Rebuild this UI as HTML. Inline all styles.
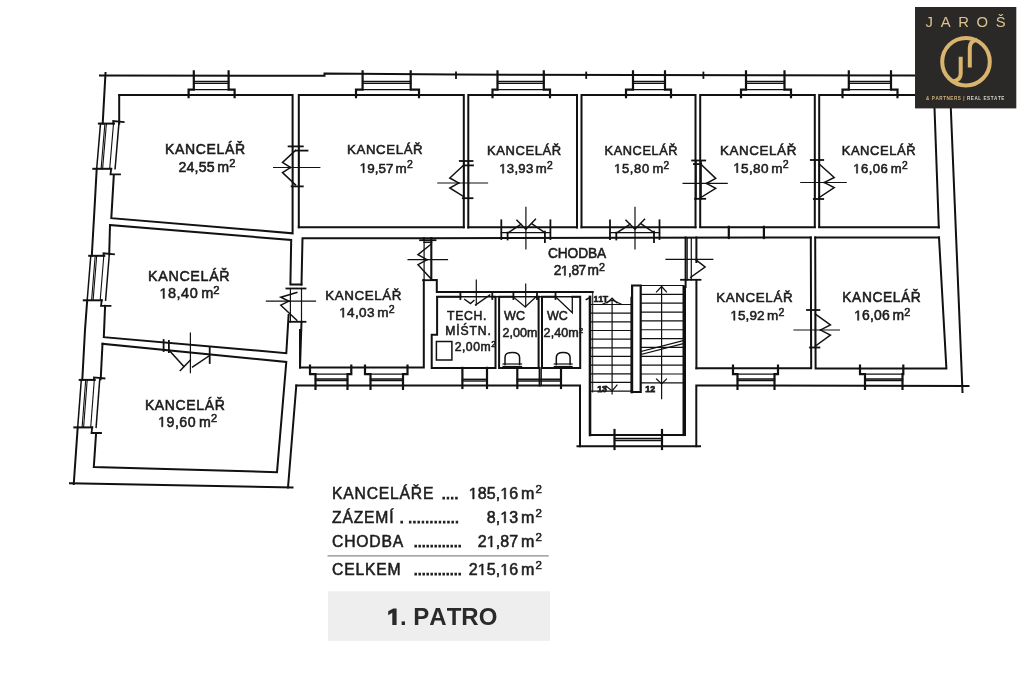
<!DOCTYPE html>
<html><head><meta charset="utf-8"><style>
html,body{margin:0;padding:0;background:#fff;}
body{width:1024px;height:683px;overflow:hidden;position:relative;font-family:"Liberation Sans",sans-serif;}
svg{position:absolute;left:0;top:0;will-change:transform;}
text{stroke:#1c1c1c;stroke-width:0.55px;font-kerning:none;fill:#1c1c1c;}
.k{font-size:14.2px;letter-spacing:0.4px;text-anchor:middle;fill:#1c1c1c;}
.a{font-size:14px;letter-spacing:0.1px;text-anchor:middle;fill:#1c1c1c;}
.s{font-size:12.5px;letter-spacing:0.1px;text-anchor:middle;fill:#1c1c1c;}
.t{font-size:7px;fill:#1c1c1c;}
.n{font-size:9.5px;font-weight:bold;fill:#1c1c1c;stroke-width:0;}
.tb text{font-size:15.7px;letter-spacing:0.8px;fill:#1e1e1e;stroke:#1e1e1e;}
.tb text.d{letter-spacing:0.1px;stroke-width:1.0px;}
.tb text.v{letter-spacing:0.1px;font-size:16px;}
.tb text.q{font-size:11.5px;letter-spacing:0;}
.h1{fill:none;stroke:none;}
path.one{fill:#1c1c1c;stroke:#1c1c1c;stroke-width:0.55px;stroke-linejoin:miter;}
</style></head><body>
<svg width="1024" height="683" viewBox="0 0 1024 683">
<g stroke="#111" stroke-width="2" fill="none" stroke-linecap="square" stroke-linejoin="miter">
<polyline points="100,75.5 324.5,75.8 324.5,73.4 455,74.6 916,75.5"/>
<polyline points="105.5,73 102.7,123.6"/>
<polyline points="96.7,168.8 95,200 91.8,255.8"/>
<polyline points="87.2,300.3 85,330 82.3,379.9"/>
<polyline points="77.7,427.4 73.75,484"/>
<line x1="70" y1="483.2" x2="292.5" y2="487.5"/>
<line x1="288" y1="487.5" x2="296.3" y2="385.5"/>
<polyline points="296.3,385.5 580,385.5 580,446.3"/>
<line x1="577.5" y1="446.3" x2="700" y2="446.3"/>
<polyline points="696.3,446.3 696.3,385.5 968.5,386"/>
<line x1="950.8" y1="108" x2="962.5" y2="392"/>
<line x1="456" y1="72.5" x2="456" y2="78" stroke-width="1.8"/>
<line x1="586.2" y1="72.5" x2="586.2" y2="78" stroke-width="1.8"/>
<line x1="703.4" y1="72.5" x2="703.4" y2="78" stroke-width="1.8"/>
<line x1="728.8" y1="226.8" x2="728.8" y2="238" stroke-width="2.2"/>
<line x1="763.9" y1="226.8" x2="763.9" y2="238" stroke-width="2.2"/>
<polyline points="119.2,95 292.6,95 292.6,233.3 111.3,218.2 113.8,175.4"/>
<line x1="119.2" y1="95" x2="119.2" y2="123.6"/>
<polyline points="298.8,227.3 298.8,95 463.8,95 463.8,227.2"/>
<polyline points="468.3,227.4 468.3,95 577,95 577,227.4"/>
<polyline points="581.5,227.2 581.5,95 695.5,95 695.5,227.2"/>
<polyline points="700.2,227 700.2,95 814.8,95 814.8,227"/>
<polyline points="819.2,227 819.2,95 916,95"/>
<line x1="934.5" y1="108" x2="938.8" y2="227.5"/>
<line x1="298.8" y1="227.3" x2="463.8" y2="227.3"/>
<line x1="468.3" y1="227.3" x2="577" y2="227.3"/>
<line x1="581.5" y1="227.3" x2="695.5" y2="227.3"/>
<line x1="700.2" y1="227.3" x2="814.8" y2="227.3"/>
<line x1="819.2" y1="227.3" x2="938.8" y2="227.3"/>
<polyline points="110,225 291.2,240 290.4,284.5 301.5,284.5"/>
<polyline points="288.6,315 286.3,353.2 103.8,337.2 105.1,305.9"/>
<line x1="109.2" y1="254.4" x2="110" y2="225"/>
<polyline points="102.5,343.8 286.3,362 277,472.2 93.8,467 96.1,433"/>
<line x1="100.7" y1="379.2" x2="102.5" y2="343.8"/>
<polyline points="301.5,284.5 302.5,238.3 423.8,238.3 423.8,239"/>
<polyline points="423.8,280 423.8,367.6 300,367.6 301.5,321.8"/>
<polyline points="300,330 300,367.5"/>
<line x1="423.8" y1="238.2" x2="810.8" y2="237.5"/>
<line x1="815.2" y1="237.5" x2="939" y2="237.5"/>
<polyline points="431.3,238 431.3,280 436.8,280 436.8,292.1 592.7,292.1"/>
<line x1="592.7" y1="292.1" x2="592.7" y2="392" stroke-width="1.0"/>
<line x1="685.6" y1="237.5" x2="685.6" y2="287"/>
<line x1="696.4" y1="280" x2="696.4" y2="368.3"/>
<line x1="696.4" y1="237.5" x2="696.4" y2="262"/>
<polyline points="460.4,296.8 437.1,296.8 437.1,334.7 431.7,334.7 431.7,367.9 495.5,367.9 495.5,296.8 492.3,296.8"/>
<line x1="437.1" y1="296.8" x2="580.2" y2="296.8" stroke-width="1.4"/>
<polyline points="513.4,296.8 499.1,296.8 499.1,367.9 538.6,367.9 538.6,296.8 537,296.8"/>
<polyline points="555.5,296.8 542,296.8 542,367.9 580.2,367.9 580.2,296.8 572.3,296.8"/>
<line x1="539.6" y1="367.9" x2="539.6" y2="385.5"/>
<line x1="541.3" y1="367.9" x2="541.3" y2="385.5" stroke-width="1.2"/>
<polyline points="696.4,368.3 811.2,368.3 810.8,237.5"/>
<polyline points="939,237.5 946.4,368.4 815.6,368.4 815.2,237.5"/>
<polyline points="590,296.9 590,435 685,435 685,287"/>
<line x1="683.6" y1="286.5" x2="683.6" y2="435" stroke-width="1.2"/>
<polyline points="193.8,71.4 193.8,89.6 188.6,89.6 188.6,97.2" stroke-width="2.2"/>
<polyline points="228.6,71.4 228.6,89.6 234.6,89.6 234.6,97.2" stroke-width="2.2"/>
<line x1="193.8" y1="81.5" x2="228.6" y2="81.5" stroke-width="1.3"/>
<line x1="193.8" y1="83.4" x2="228.6" y2="83.4" stroke-width="1.3"/>
<line x1="193.8" y1="89.6" x2="228.6" y2="89.6" stroke-width="1.2"/>
<polyline points="362.6,71.4 362.6,89.6 356,89.6 356,97.2" stroke-width="2.2"/>
<polyline points="410.7,71.4 410.7,89.6 419,89.6 419,97.2" stroke-width="2.2"/>
<line x1="362.6" y1="81.5" x2="410.7" y2="81.5" stroke-width="1.3"/>
<line x1="362.6" y1="83.4" x2="410.7" y2="83.4" stroke-width="1.3"/>
<line x1="362.6" y1="89.6" x2="410.7" y2="89.6" stroke-width="1.2"/>
<polyline points="497.5,71.4 497.5,89.6 492.5,89.6 492.5,97.2" stroke-width="2.2"/>
<polyline points="543.8,71.4 543.8,89.6 550,89.6 550,97.2" stroke-width="2.2"/>
<line x1="497.5" y1="81.5" x2="543.8" y2="81.5" stroke-width="1.3"/>
<line x1="497.5" y1="83.4" x2="543.8" y2="83.4" stroke-width="1.3"/>
<line x1="497.5" y1="89.6" x2="543.8" y2="89.6" stroke-width="1.2"/>
<polyline points="633,71.4 633,89.6 626,89.6 626,97.2" stroke-width="2.2"/>
<polyline points="665,71.4 665,89.6 671,89.6 671,97.2" stroke-width="2.2"/>
<line x1="633" y1="81.5" x2="665" y2="81.5" stroke-width="1.3"/>
<line x1="633" y1="83.4" x2="665" y2="83.4" stroke-width="1.3"/>
<line x1="633" y1="89.6" x2="665" y2="89.6" stroke-width="1.2"/>
<polyline points="746,71.4 746,89.6 741,89.6 741,97.2" stroke-width="2.2"/>
<polyline points="784.5,71.4 784.5,89.6 791,89.6 791,97.2" stroke-width="2.2"/>
<line x1="746" y1="81.5" x2="784.5" y2="81.5" stroke-width="1.3"/>
<line x1="746" y1="83.4" x2="784.5" y2="83.4" stroke-width="1.3"/>
<line x1="746" y1="89.6" x2="784.5" y2="89.6" stroke-width="1.2"/>
<polyline points="848.8,71.4 848.8,89.6 842.5,89.6 842.5,97.2" stroke-width="2.2"/>
<polyline points="891,71.4 891,89.6 897.5,89.6 897.5,97.2" stroke-width="2.2"/>
<line x1="848.8" y1="81.5" x2="891" y2="81.5" stroke-width="1.3"/>
<line x1="848.8" y1="83.4" x2="891" y2="83.4" stroke-width="1.3"/>
<line x1="848.8" y1="89.6" x2="891" y2="89.6" stroke-width="1.2"/>
<polyline points="310,365.6 310,374.1 315.5,374.1 315.5,389" stroke-width="2.2"/>
<polyline points="351.3,365.6 351.3,374.1 347.5,374.1 347.5,389" stroke-width="2.2"/>
<line x1="315.5" y1="374.1" x2="347.5" y2="374.1" stroke-width="1.2"/>
<line x1="315.5" y1="379" x2="347.5" y2="379" stroke-width="1.3"/>
<line x1="315.5" y1="380.5" x2="347.5" y2="380.5" stroke-width="1.3"/>
<polyline points="365,365.6 365,374.1 370.5,374.1 370.5,389" stroke-width="2.2"/>
<polyline points="407.5,365.6 407.5,374.1 403,374.1 403,389" stroke-width="2.2"/>
<line x1="370.5" y1="374.1" x2="403" y2="374.1" stroke-width="1.2"/>
<line x1="370.5" y1="379" x2="403" y2="379" stroke-width="1.3"/>
<line x1="370.5" y1="380.5" x2="403" y2="380.5" stroke-width="1.3"/>
<polyline points="733,365.6 733,374.1 737.5,374.1 737.5,389" stroke-width="2.2"/>
<polyline points="778,365.6 778,374.1 774.5,374.1 774.5,389" stroke-width="2.2"/>
<line x1="737.5" y1="374.1" x2="774.5" y2="374.1" stroke-width="1.2"/>
<line x1="737.5" y1="379" x2="774.5" y2="379" stroke-width="1.3"/>
<line x1="737.5" y1="380.5" x2="774.5" y2="380.5" stroke-width="1.3"/>
<polyline points="860,365.6 860,374.1 865,374.1 865,389" stroke-width="2.2"/>
<polyline points="903.3,365.6 903.3,374.1 902.5,374.1 902.5,389" stroke-width="2.2"/>
<line x1="865" y1="374.1" x2="902.5" y2="374.1" stroke-width="1.2"/>
<line x1="865" y1="379" x2="902.5" y2="379" stroke-width="1.3"/>
<line x1="865" y1="380.5" x2="902.5" y2="380.5" stroke-width="1.3"/>
<line x1="462.4" y1="367.9" x2="462.4" y2="388" stroke-width="2.2"/>
<line x1="487" y1="367.9" x2="487" y2="388" stroke-width="2.2"/>
<line x1="462.4" y1="379.3" x2="487" y2="379.3" stroke-width="1.4"/>
<line x1="462.4" y1="381" x2="487" y2="381" stroke-width="1.4"/>
<line x1="517.3" y1="367.9" x2="517.3" y2="388" stroke-width="2.2"/>
<line x1="561" y1="367.9" x2="561" y2="388" stroke-width="2.2"/>
<line x1="517.3" y1="379.3" x2="561" y2="379.3" stroke-width="1.4"/>
<line x1="517.3" y1="381" x2="561" y2="381" stroke-width="1.4"/>
<line x1="614.5" y1="430" x2="614.5" y2="449" stroke-width="2.2"/>
<line x1="662" y1="430" x2="662" y2="449" stroke-width="2.2"/>
<line x1="614.5" y1="438.5" x2="662" y2="438.5" stroke-width="1.3"/>
<line x1="614.5" y1="440.5" x2="662" y2="440.5" stroke-width="1.3"/>
<line x1="100.5" y1="123.6" x2="96.7" y2="168.8" stroke-width="1.5"/>
<line x1="104.9" y1="123.6" x2="101.1" y2="168.8" stroke-width="1.1"/>
<line x1="106.4" y1="123.6" x2="102.6" y2="168.8" stroke-width="1.1"/>
<line x1="113.5" y1="123.6" x2="109.7" y2="168.8" stroke-width="1.1"/>
<line x1="118.9" y1="123.6" x2="115.1" y2="168.8" stroke-width="1.5"/>
<line x1="98.9" y1="123.6" x2="114" y2="123.6"/>
<polyline points="113.2,123.6 113.2,121.1 123.7,122.1" stroke-width="1.8"/>
<line x1="93.3" y1="168.8" x2="111.2" y2="168.8"/>
<polyline points="111.2,168.8 110.5,174.4 120,174.4" stroke-width="1.8"/>
<line x1="90.8" y1="255.8" x2="87.2" y2="300.3" stroke-width="1.5"/>
<line x1="95.2" y1="255.8" x2="91.6" y2="300.3" stroke-width="1.1"/>
<line x1="96.7" y1="255.8" x2="93.1" y2="300.3" stroke-width="1.1"/>
<line x1="103.8" y1="255.8" x2="100.2" y2="300.3" stroke-width="1.1"/>
<line x1="109.2" y1="255.8" x2="105.6" y2="300.3" stroke-width="1.5"/>
<line x1="89.2" y1="255.8" x2="104.3" y2="255.8"/>
<polyline points="103.5,255.8 103.5,253.3 114,254.3" stroke-width="1.8"/>
<line x1="83.8" y1="300.3" x2="101.7" y2="300.3"/>
<polyline points="101.7,300.3 101,305.9 110.5,305.9" stroke-width="1.8"/>
<line x1="81.3" y1="379.9" x2="77.7" y2="427.4" stroke-width="1.5"/>
<line x1="85.7" y1="379.9" x2="82.1" y2="427.4" stroke-width="1.1"/>
<line x1="87.2" y1="379.9" x2="83.6" y2="427.4" stroke-width="1.1"/>
<line x1="94.3" y1="379.9" x2="90.7" y2="427.4" stroke-width="1.1"/>
<line x1="99.7" y1="379.9" x2="96.1" y2="427.4" stroke-width="1.5"/>
<line x1="79.7" y1="379.9" x2="94.8" y2="379.9"/>
<polyline points="94,379.9 94,377.4 104.5,378.4" stroke-width="1.8"/>
<line x1="74.3" y1="427.4" x2="92.2" y2="427.4"/>
<polyline points="92.2,427.4 91.5,433 101,433" stroke-width="1.8"/>
<line x1="288.6" y1="146.4" x2="302.8" y2="146.4" stroke-width="1.8"/>
<line x1="291.6" y1="186.4" x2="302.8" y2="186.4" stroke-width="1.8"/>
<line x1="292.6" y1="146.4" x2="292.6" y2="186.4" stroke-width="1.2"/>
<line x1="298.8" y1="146.4" x2="298.8" y2="186.4" stroke-width="1.2"/>
<line x1="273.6" y1="167.5" x2="319.8" y2="167.5" stroke-width="1.2"/>
<polyline points="295.5,150.4 282.5,162.5 290.5,167.5" stroke-width="1.5"/>
<polyline points="295.5,184.9 282.5,172.5 290.5,167.5" stroke-width="1.5"/>
<line x1="296" y1="150.6" x2="307.5" y2="150.6" stroke-width="1.8"/>
<line x1="459.8" y1="161" x2="472.5" y2="161" stroke-width="1.8"/>
<line x1="462.8" y1="198.2" x2="472.5" y2="198.2" stroke-width="1.8"/>
<line x1="463.8" y1="161" x2="463.8" y2="198.2" stroke-width="1.2"/>
<line x1="468.5" y1="161" x2="468.5" y2="198.2" stroke-width="1.2"/>
<line x1="437.8" y1="183" x2="487.5" y2="183" stroke-width="1.2"/>
<polyline points="463.8,165 449.8,178 458.8,183" stroke-width="1.5"/>
<polyline points="463.8,196.7 449.8,188 458.8,183" stroke-width="1.5"/>
<line x1="463.8" y1="165.4" x2="473" y2="165.4" stroke-width="1.8"/>
<line x1="692.1" y1="160.5" x2="705.2" y2="160.5" stroke-width="1.8"/>
<line x1="695.1" y1="198.8" x2="705.2" y2="198.8" stroke-width="1.8"/>
<line x1="701.2" y1="160.5" x2="701.2" y2="198.8" stroke-width="1.2"/>
<line x1="696.1" y1="160.5" x2="696.1" y2="198.8" stroke-width="1.2"/>
<line x1="683.1" y1="183.4" x2="727.2" y2="183.4" stroke-width="1.2"/>
<polyline points="701.2,164.5 715.7,178.4 706.6,183.4" stroke-width="1.5"/>
<polyline points="701.2,197.3 715.7,188.4 706.6,183.4" stroke-width="1.5"/>
<line x1="693.9" y1="164.1" x2="701.2" y2="164.1" stroke-width="1.8"/>
<line x1="810.8" y1="160" x2="823.2" y2="160" stroke-width="1.8"/>
<line x1="813.8" y1="199" x2="823.2" y2="199" stroke-width="1.8"/>
<line x1="819.2" y1="160" x2="819.2" y2="199" stroke-width="1.2"/>
<line x1="814.8" y1="160" x2="814.8" y2="199" stroke-width="1.2"/>
<line x1="800.8" y1="182.5" x2="846.2" y2="182.5" stroke-width="1.2"/>
<polyline points="819.2,164 834.2,177.5 824.2,182.5" stroke-width="1.5"/>
<polyline points="819.2,197.5 834.2,187.5 824.2,182.5" stroke-width="1.5"/>
<line x1="807" y1="310" x2="819.4" y2="310" stroke-width="1.8"/>
<line x1="810" y1="347.5" x2="819.4" y2="347.5" stroke-width="1.8"/>
<line x1="815.4" y1="310" x2="815.4" y2="347.5" stroke-width="1.2"/>
<line x1="811" y1="310" x2="811" y2="347.5" stroke-width="1.2"/>
<line x1="794" y1="330" x2="839.4" y2="330" stroke-width="1.2"/>
<polyline points="815.4,314 830.4,325 820.4,330" stroke-width="1.5"/>
<polyline points="815.4,346 830.4,335 820.4,330" stroke-width="1.5"/>
<line x1="420.1" y1="240.2" x2="435.5" y2="240.2" stroke-width="1.8"/>
<line x1="423.1" y1="280.2" x2="435.5" y2="280.2" stroke-width="1.8"/>
<line x1="431.5" y1="240.2" x2="431.5" y2="280.2" stroke-width="1.2"/>
<line x1="424.1" y1="240.2" x2="424.1" y2="280.2" stroke-width="1.2"/>
<line x1="408.1" y1="259.7" x2="447.5" y2="259.7" stroke-width="1.2"/>
<polyline points="431,244.2 418,254.7 427,259.7" stroke-width="1.5"/>
<polyline points="431,278.7 418,264.7 427,259.7" stroke-width="1.5"/>
<line x1="424.1" y1="242.3" x2="431.5" y2="242.3" stroke-width="1.5"/>
<line x1="286.4" y1="288.5" x2="305.5" y2="288.5" stroke-width="1.8"/>
<line x1="289.4" y1="321.8" x2="305.5" y2="321.8" stroke-width="1.8"/>
<line x1="290.4" y1="288.5" x2="290.4" y2="321.8" stroke-width="1.2"/>
<line x1="301.5" y1="288.5" x2="301.5" y2="321.8" stroke-width="1.2"/>
<line x1="266.4" y1="301.2" x2="315.5" y2="301.2" stroke-width="1.2"/>
<polyline points="296.8,292.5 280.8,297.2 288.8,301.2" stroke-width="1.5"/>
<polyline points="296.8,320.3 280.8,305.2 288.8,301.2" stroke-width="1.5"/>
<line x1="687.2" y1="237.5" x2="687.2" y2="280" stroke-width="1.2"/>
<line x1="691.3" y1="237.5" x2="691.3" y2="280" stroke-width="1.2"/>
<line x1="681" y1="279.8" x2="700.5" y2="279.8" stroke-width="1.8"/>
<line x1="666" y1="259.3" x2="712.8" y2="259.3" stroke-width="1.2"/>
<polyline points="690.7,277.3 705.1,267 695.9,259.8" stroke-width="1.5"/>
<line x1="501.3" y1="220.3" x2="501.3" y2="239" stroke-width="1.8"/>
<line x1="550.4" y1="220.3" x2="550.4" y2="239" stroke-width="1.8"/>
<line x1="501.3" y1="232.65" x2="550.4" y2="232.65" stroke-width="1.2"/>
<line x1="507.6" y1="232.65" x2="507.6" y2="239.5" stroke-width="1.8"/>
<line x1="544.9" y1="231.65" x2="544.9" y2="242" stroke-width="1.8"/>
<line x1="525.9" y1="207.3" x2="525.9" y2="249" stroke-width="1.2"/>
<polyline points="516.9,220.3 525.9,229.3 535.4,219.3" stroke-width="1.5"/>
<line x1="507.6" y1="233.15" x2="520.9" y2="224.3" stroke-width="1.5"/>
<line x1="544.9" y1="232.65" x2="531.9" y2="223.8" stroke-width="1.5"/>
<line x1="610" y1="220.3" x2="610" y2="239" stroke-width="1.8"/>
<line x1="659.5" y1="220.3" x2="659.5" y2="239" stroke-width="1.8"/>
<line x1="610" y1="232.65" x2="659.5" y2="232.65" stroke-width="1.2"/>
<line x1="616.3" y1="232.65" x2="616.3" y2="239.5" stroke-width="1.8"/>
<line x1="654" y1="231.65" x2="654" y2="242" stroke-width="1.8"/>
<line x1="635" y1="207.3" x2="635" y2="249" stroke-width="1.2"/>
<polyline points="626,220.3 635,229.3 644.5,219.3" stroke-width="1.5"/>
<line x1="616.3" y1="233.15" x2="630" y2="224.3" stroke-width="1.5"/>
<line x1="654" y1="232.65" x2="641" y2="223.8" stroke-width="1.5"/>
<line x1="163.6" y1="340" x2="163.6" y2="351" stroke-width="1.8"/>
<line x1="168.9" y1="341" x2="168.9" y2="352" stroke-width="1.8"/>
<line x1="209.7" y1="347" x2="209.7" y2="363" stroke-width="1.8"/>
<line x1="190.4" y1="333.2" x2="190.4" y2="372.7" stroke-width="1.2"/>
<polyline points="168.9,350 183.8,366.5" stroke-width="1.5"/>
<line x1="180.3" y1="370.5" x2="190.4" y2="360" stroke-width="1.5"/>
<polyline points="209,356 192.6,367" stroke-width="1.5"/>
<line x1="460.4" y1="292.1" x2="460.4" y2="299" stroke-width="1.8"/>
<line x1="492.3" y1="292.1" x2="492.3" y2="299" stroke-width="1.8"/>
<polyline points="464.6,299.4 470.5,303.6 474,300.5" stroke-width="1.3"/>
<polyline points="475.5,305 489.8,295" stroke-width="1.3"/>
<line x1="476.3" y1="280" x2="476.3" y2="305" stroke-width="1.2"/>
<line x1="513.4" y1="292.1" x2="513.4" y2="299" stroke-width="1.8"/>
<line x1="537" y1="292.1" x2="537" y2="299" stroke-width="1.8"/>
<polyline points="513.4,297 525.2,307 537,296" stroke-width="1.3"/>
<line x1="525.7" y1="284.2" x2="525.7" y2="307" stroke-width="1.2"/>
<line x1="555.5" y1="292.1" x2="555.5" y2="299" stroke-width="1.8"/>
<polyline points="555.5,296.8 572.3,312.8 572.3,296.8" stroke-width="1.3"/>
<path d="M505,364.5 L505,357.4 Q505,352.4 512.3,352.4 Q519.6,352.4 519.6,357.4 L519.6,364.5" stroke-width="1.5"/>
<line x1="503" y1="364" x2="521.6" y2="364" stroke-width="1.2"/>
<line x1="503" y1="366.5" x2="521.6" y2="366.5" stroke-width="1.2"/>
<path d="M556.3,364.5 L556.3,357.4 Q556.3,352.4 563.2,352.4 Q570.1,352.4 570.1,357.4 L570.1,364.5" stroke-width="1.5"/>
<line x1="554.3" y1="364" x2="572.1" y2="364" stroke-width="1.2"/>
<line x1="554.3" y1="366.5" x2="572.1" y2="366.5" stroke-width="1.2"/>
<polygon points="436.4,341.4 451.9,341.4 451.9,360 436.4,360" stroke-width="1.5"/>
<line x1="590.8" y1="304.5" x2="631.7" y2="304.5" stroke-width="1.2"/>
<line x1="590.8" y1="313.16" x2="631.7" y2="313.16" stroke-width="1.2"/>
<line x1="590.8" y1="321.82" x2="631.7" y2="321.82" stroke-width="1.2"/>
<line x1="590.8" y1="330.48" x2="631.7" y2="330.48" stroke-width="1.2"/>
<line x1="590.8" y1="339.14" x2="631.7" y2="339.14" stroke-width="1.2"/>
<line x1="590.8" y1="347.8" x2="631.7" y2="347.8" stroke-width="1.2"/>
<line x1="590.8" y1="356.46" x2="631.7" y2="356.46" stroke-width="1.2"/>
<line x1="590.8" y1="365.12" x2="631.7" y2="365.12" stroke-width="1.2"/>
<line x1="590.8" y1="373.78" x2="631.7" y2="373.78" stroke-width="1.2"/>
<line x1="590.8" y1="382.44" x2="631.7" y2="382.44" stroke-width="1.2"/>
<line x1="590.8" y1="391.1" x2="631.7" y2="391.1" stroke-width="1.2"/>
<line x1="640.7" y1="285.5" x2="683.6" y2="285.5" stroke-width="1.2"/>
<line x1="640.7" y1="294.35" x2="683.6" y2="294.35" stroke-width="1.2"/>
<line x1="640.7" y1="303.2" x2="683.6" y2="303.2" stroke-width="1.2"/>
<line x1="640.7" y1="312.05" x2="683.6" y2="312.05" stroke-width="1.2"/>
<line x1="640.7" y1="320.9" x2="683.6" y2="320.9" stroke-width="1.2"/>
<line x1="640.7" y1="329.75" x2="683.6" y2="329.75" stroke-width="1.2"/>
<line x1="640.7" y1="338.6" x2="683.6" y2="338.6" stroke-width="1.2"/>
<line x1="640.7" y1="347.45" x2="683.6" y2="347.45" stroke-width="1.2"/>
<line x1="640.7" y1="356.3" x2="683.6" y2="356.3" stroke-width="1.2"/>
<line x1="640.7" y1="365.15" x2="683.6" y2="365.15" stroke-width="1.2"/>
<line x1="640.7" y1="374" x2="683.6" y2="374" stroke-width="1.2"/>
<line x1="640.7" y1="382.85" x2="683.6" y2="382.85" stroke-width="1.2"/>
<polygon points="632.1,285.5 640.7,285.5 640.7,392 632.1,392" stroke-width="2.2"/>
<line x1="631.7" y1="298" x2="631.7" y2="392" stroke-width="2.6"/>
<line x1="612.1" y1="300" x2="612.1" y2="394" stroke-width="1.2"/>
<polyline points="607,303 612.1,298 617,303" stroke-width="1.2"/>
<polyline points="602,304.5 612.1,300 622,304.5" stroke-width="1.2"/>
<polyline points="606,386 612.1,391 617,385" stroke-width="1.2"/>
<line x1="661.6" y1="286.4" x2="661.6" y2="398.7" stroke-width="1.2"/>
<polyline points="656.5,292 661.6,286.5 666.5,292" stroke-width="1.2"/>
<polyline points="656.5,379 661.6,384 666.5,379" stroke-width="1.2"/>
<line x1="640.7" y1="351.5" x2="683.6" y2="340.5" stroke-width="1.2"/>
<line x1="640.7" y1="354.5" x2="683.6" y2="343.5" stroke-width="1.2"/>
<line x1="590" y1="296.9" x2="590" y2="435" stroke-width="2.6"/>
<polyline points="586.3,299.4 590,297.5 590,301" stroke-width="1.5"/>
<line x1="683.6" y1="286.5" x2="683.6" y2="435" stroke-width="2.2"/>
</g>
<g font-family="Liberation Sans, sans-serif">
<text x="165.10" y="153.6" font-size="14.03" letter-spacing="0.63">KANCELÁŘ</text>
<text x="178.44" y="171.7" font-size="14.20" letter-spacing="0.16">24,55 <tspan dx="-1.6">m</tspan><tspan font-size="11.08" dx="-0.05" dy="-4.69" letter-spacing="0">2</tspan></text>
<text x="347.06" y="154.3" font-size="13.26" letter-spacing="0.60">KANCELÁŘ</text>
<text x="359.63" y="172.7" font-size="13.43" letter-spacing="0.04"><tspan class="h1">1</tspan>9,57 <tspan dx="-1.6">m</tspan><tspan font-size="10.47" dx="0.14" dy="-4.43" letter-spacing="0">2</tspan></text><path class="one" d="M363.00,172.70 L363.00,164.59 L360.92,166.08 L360.92,164.96 L363.10,163.46 L364.19,163.46 L364.19,172.70 Z"/>
<text x="487.08" y="155.4" font-size="12.99" letter-spacing="0.59">KANCELÁŘ</text>
<text x="499.25" y="173.2" font-size="13.16" letter-spacing="0.27"><tspan class="h1">1</tspan>3,93 <tspan dx="-1.6">m</tspan><tspan font-size="10.26" dx="-0.05" dy="-4.34" letter-spacing="0">2</tspan></text><path class="one" d="M502.56,173.20 L502.56,165.25 L500.51,166.71 L500.51,165.62 L502.65,164.15 L503.72,164.15 L503.72,173.20 Z"/>
<text x="604.60" y="155.4" font-size="12.77" letter-spacing="0.58">KANCELÁŘ</text>
<text x="614.06" y="173.1" font-size="12.94" letter-spacing="0.69"><tspan class="h1">1</tspan>5,80 <tspan dx="-1.6">m</tspan><tspan font-size="10.10" dx="-0.45" dy="-4.27" letter-spacing="0">2</tspan></text><path class="one" d="M617.32,173.10 L617.32,165.28 L615.31,166.72 L615.31,165.64 L617.41,164.19 L618.46,164.19 L618.46,173.10 Z"/>
<text x="719.95" y="154.7" font-size="13.40" letter-spacing="0.60">KANCELÁŘ</text>
<text x="733.22" y="172.7" font-size="13.57" letter-spacing="0.32"><tspan class="h1">1</tspan>5,80 <tspan dx="-1.6">m</tspan><tspan font-size="10.59" dx="-0.15" dy="-4.48" letter-spacing="0">2</tspan></text><path class="one" d="M736.63,172.70 L736.63,164.50 L734.52,166.01 L734.52,164.88 L736.73,163.36 L737.83,163.36 L737.83,172.70 Z"/>
<text x="841.69" y="155.1" font-size="12.95" letter-spacing="0.58">KANCELÁŘ</text>
<text x="853.15" y="173.2" font-size="13.12" letter-spacing="0.47"><tspan class="h1">1</tspan>6,06 <tspan dx="-1.6">m</tspan><tspan font-size="10.24" dx="-0.25" dy="-4.33" letter-spacing="0">2</tspan></text><path class="one" d="M856.45,173.20 L856.45,165.27 L854.41,166.73 L854.41,165.64 L856.55,164.17 L857.61,164.17 L857.61,173.20 Z"/>
<text x="148.08" y="281.2" font-size="14.30" letter-spacing="0.64">KANCELÁŘ</text>
<text x="159.45" y="298.4" font-size="14.47" letter-spacing="0.51"><tspan class="h1">1</tspan>8,40 <tspan dx="-1.6">m</tspan><tspan font-size="11.29" dx="-0.44" dy="-4.77" letter-spacing="0">2</tspan></text><path class="one" d="M163.09,298.40 L163.09,289.66 L160.84,291.26 L160.84,290.06 L163.19,288.45 L164.37,288.45 L164.37,298.40 Z"/>
<text x="325.25" y="299.8" font-size="13.37" letter-spacing="0.60">KANCELÁŘ</text>
<text x="339.22" y="317.3" font-size="13.54" letter-spacing="0.33"><tspan class="h1">1</tspan>4,03 <tspan dx="-1.6">m</tspan><tspan font-size="10.56" dx="-0.15" dy="-4.47" letter-spacing="0">2</tspan></text><path class="one" d="M342.62,317.30 L342.62,309.12 L340.52,310.62 L340.52,309.50 L342.72,307.99 L343.82,307.99 L343.82,317.30 Z"/>
<text x="144.90" y="409.8" font-size="14.01" letter-spacing="0.63">KANCELÁŘ</text>
<text x="158.07" y="426.8" font-size="14.18" letter-spacing="0.53"><tspan class="h1">1</tspan>9,60 <tspan dx="-1.6">m</tspan><tspan font-size="11.06" dx="-0.42" dy="-4.68" letter-spacing="0">2</tspan></text><path class="one" d="M161.64,426.80 L161.64,418.23 L159.43,419.81 L159.43,418.63 L161.74,417.04 L162.89,417.04 L162.89,426.80 Z"/>
<text x="716.35" y="302.3" font-size="13.37" letter-spacing="0.60">KANCELÁŘ</text>
<text x="730.32" y="320.3" font-size="13.54" letter-spacing="0.11"><tspan class="h1">1</tspan>5,92 <tspan dx="-1.6">m</tspan><tspan font-size="10.56" dx="0.07" dy="-4.47" letter-spacing="0">2</tspan></text><path class="one" d="M733.72,320.30 L733.72,312.12 L731.62,313.62 L731.62,312.50 L733.82,310.99 L734.92,310.99 L734.92,320.30 Z"/>
<text x="842.32" y="302.3" font-size="13.76" letter-spacing="0.62">KANCELÁŘ</text>
<text x="854.09" y="320.3" font-size="13.93" letter-spacing="0.22"><tspan class="h1">1</tspan>6,06 <tspan dx="-1.6">m</tspan><tspan font-size="10.87" dx="-0.09" dy="-4.60" letter-spacing="0">2</tspan></text><path class="one" d="M857.59,320.30 L857.59,311.89 L855.43,313.43 L855.43,312.27 L857.69,310.72 L858.82,310.72 L858.82,320.30 Z"/>
<text x="548.05" y="258.3" font-size="13.72" letter-spacing="-0.13">CHODBA</text>
<text x="553.66" y="275.4" font-size="13.72" letter-spacing="-0.45">2<tspan class="h1">1</tspan>,87 <tspan dx="-1.6">m</tspan><tspan font-size="10.70" dx="0.61" dy="-4.53" letter-spacing="0">2</tspan></text><path class="one" d="M564.29,275.40 L564.29,267.11 L562.16,268.63 L562.16,267.49 L564.39,265.96 L565.50,265.96 L565.50,275.40 Z"/>
<text x="446.98" y="319.6" font-size="12.20" letter-spacing="0.73">TECH.</text>
<text x="445.15" y="334.6" font-size="12.20" letter-spacing="0.88">MİŚTN.</text>
<text x="454.64" y="351.1" font-size="12.20" letter-spacing="0.52">2,00m</text>
<text x="491.2" y="347" font-size="8.5">2</text>
<text x="514.6" y="319.6" class="s">WC</text><text x="520" y="337.2" class="s">2,00m</text>
<text x="557.4" y="319.6" class="s">WC</text><text x="563.5" y="337.2" class="s">2,40m<tspan font-size="8" dy="-4">2</tspan></text>
<text x="593.6" y="301.8" style="font-size:8.8px;font-weight:bold;stroke-width:0.6px;letter-spacing:-0.3px">11T</text>
<text x="597.3" y="391.6" style="font-size:8.8px;font-weight:bold;stroke-width:0.75px;letter-spacing:-0.2px">13</text><text x="645.3" y="391.6" style="font-size:8.8px;font-weight:bold;stroke-width:0.75px">12</text>
</g>
<g class="tb" font-family="Liberation Sans, sans-serif">
<text x="332" y="499">KANCELÁŘE</text><text x="441.5" y="499" class="d" style="letter-spacing:-0.15px">....</text><text x="468.69" y="499" class="v"><tspan class="h1">1</tspan>85,<tspan class="h1">1</tspan>6<tspan dx="-1.8"> m</tspan></text><path class="one" d="M472.71,499.00 L472.71,489.34 L470.23,491.11 L470.23,489.78 L472.83,487.99 L474.13,487.99 L474.13,499.00 Z"/><path class="one" d="M504.25,499.00 L504.25,489.34 L501.77,491.11 L501.77,489.78 L504.37,487.99 L505.67,487.99 L505.67,499.00 Z"/><text x="535.6" y="493.3" class="q">2</text>
<text x="332" y="522.8">ZÁZEMÍ</text><text x="399.5" y="522.8" class="d" style="letter-spacing:-0.1px">. ............</text><text x="486.69" y="522.8" class="v">8,<tspan class="h1">1</tspan>3<tspan dx="-1.8"> m</tspan></text><path class="one" d="M504.25,522.80 L504.25,513.14 L501.77,514.91 L501.77,513.58 L504.37,511.79 L505.67,511.79 L505.67,522.80 Z"/><text x="535.6" y="517.0999999999999" class="q">2</text>
<text x="332" y="547">CHODBA</text><text x="413.5" y="547" class="d" style="letter-spacing:-0.35px">............</text><text x="477.69" y="547" class="v">2<tspan class="h1">1</tspan>,87<tspan dx="-1.8"> m</tspan></text><path class="one" d="M490.71,547.00 L490.71,537.34 L488.23,539.11 L488.23,537.78 L490.83,535.99 L492.12,535.99 L492.12,547.00 Z"/><text x="535.6" y="541.3" class="q">2</text>
<text x="332" y="575">CELKEM</text><text x="413.5" y="575" class="d" style="letter-spacing:-0.35px">............</text><text x="468.69" y="575" class="v">2<tspan class="h1">1</tspan>5,<tspan class="h1">1</tspan>6<tspan dx="-1.8"> m</tspan></text><path class="one" d="M481.71,575.00 L481.71,565.34 L479.23,567.11 L479.23,565.78 L481.83,563.99 L483.12,563.99 L483.12,575.00 Z"/><path class="one" d="M504.25,575.00 L504.25,565.34 L501.77,567.11 L501.77,565.78 L504.37,563.99 L505.67,563.99 L505.67,575.00 Z"/><text x="535.6" y="569.3" class="q">2</text>
</g>
<line x1="327.5" y1="555.8" x2="548.8" y2="555.8" stroke="#8a8a8a" stroke-width="1.2"/>
<rect x="328" y="591.3" width="222" height="49.5" fill="#eeeeee"/>
<text x="442" y="624.9" text-anchor="middle" font-family="Liberation Sans, sans-serif" font-weight="bold" font-size="24px" style="stroke:none;fill:#2a2a2a"><tspan style="fill:none">1</tspan>. PATRO</text>
<path d="M392.3,625 L396.6,625 L396.6,608.4 L393.2,608.4 L388.2,611.3 L388.2,615.2 L392.3,612.8 Z" fill="#2a2a2a"/>
<rect x="915" y="7" width="101.3" height="101.4" fill="#2b2927"/>
<g fill="none" stroke="#d8b46e" stroke-width="4">
<circle cx="966" cy="61.7" r="23.8"/>
<path d="M960.7,56.7 L960.7,73.5 Q960.7,80.5 952.5,81.5" stroke-linecap="butt"/>
<path d="M969.8,67.6 L969.8,48 Q969.8,41 977,39.8" stroke-linecap="butt"/>
</g>
<text x="925.57" y="26.9" font-family="Liberation Sans, sans-serif" font-size="14.8px" letter-spacing="7.67px" style="stroke:none;fill:#dcc48e">JAROŠ</text>
<text x="965.5" y="100" text-anchor="middle" font-family="Liberation Sans, sans-serif" font-weight="bold" font-size="4.6px" letter-spacing="0.55px" style="stroke:none;fill:#cdb27a">&amp; PARTNERS | <tspan style="fill:#d6d3cc">REAL ESTATE</tspan></text>
</svg>
</body></html>
